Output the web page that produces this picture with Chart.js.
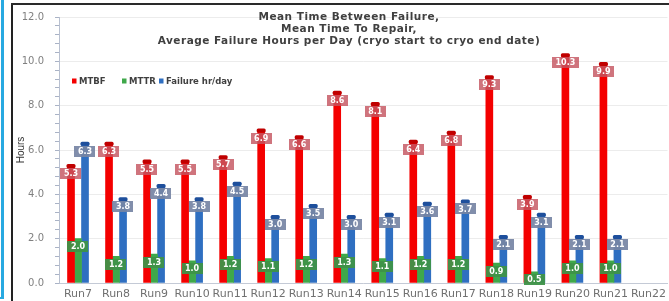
<!DOCTYPE html>
<html>
<head>
<meta charset="utf-8">
<script src="https://cdn.jsdelivr.net/npm/chart.js@4/dist/chart.umd.min.js"></script>
<style>
  html, body { margin: 0; padding: 0; background: #ffffff; overflow: hidden; }
  #wrap { position: relative; width: 669px; height: 301px; overflow: hidden; }
  canvas { position: absolute; left: 0; top: 0; }
  .ln { position: absolute; }
</style>
</head>
<body>
<div id="wrap">
  <canvas id="c" width="671" height="301"></canvas>
  <div class="ln" style="left:1px;top:0;width:3px;height:299px;background:#27a9e1;"></div>
  <div class="ln" style="left:0;top:297px;width:4px;height:2px;background:#27a9e1;"></div>
  <div class="ln" style="left:11px;top:3px;width:2px;height:298px;background:#222;"></div>
  <div class="ln" style="left:11px;top:3px;width:660px;height:2px;background:#2a2a2a;"></div>
</div>
<script>
const categories = ['Run7','Run8','Run9','Run10','Run11','Run12','Run13','Run14','Run15','Run16','Run17','Run18','Run19','Run20','Run21','Run22'];
const mtbf    = [5.3, 6.3, 5.5, 5.5, 5.7, 6.9, 6.6, 8.6, 8.1, 6.4, 6.8, 9.3, 3.9, 10.3, 9.9, null];
const mttr    = [2.0, 1.2, 1.3, 1.0, 1.2, 1.1, 1.2, 1.3, 1.1, 1.2, 1.2, 0.9, 0.5, 1.0, 1.0, null];
const failure = [6.3, 3.8, 4.4, 3.8, 4.5, 3.0, 3.5, 3.0, 3.1, 3.6, 3.7, 2.1, 3.1, 2.1, 2.1, null];
const seriesNames = ['MTBF', 'MTTR', 'Failure hr/day'];
const titleLines = ['Mean Time Between Failure,', 'Mean Time To Repair,', 'Average Failure Hours per Day (cryo start to cryo end date)'];
const yMin = 0, yMax = 12, yMinorStep = 0.4, yMajorStep = 2;

const colors = ['#f40000', '#3fa84a', '#2f6fc1'];
const capColors = ['#c00000', null, '#1e4f9c'];
const labelBg = ['rgba(196,86,96,0.82)', 'rgba(62,146,72,0.95)', 'rgba(118,132,164,0.92)'];
const legendX = [72, 122, 159];

function isMajor(v) { return Math.abs(v / yMajorStep - Math.round(v / yMajorStep)) < 1e-6; }

const overlay = {
  id: 'overlay',
  afterDatasetsDraw(chart) {
    const ctx = chart.ctx;
    chart.data.datasets.forEach((ds, di) => {
      const meta = chart.getDatasetMeta(di);
      if (!capColors[di]) return;
      meta.data.forEach((el, i) => {
        if (ds.data[i] == null) return;
        ctx.save();
        ctx.fillStyle = capColors[di];
        ctx.beginPath();
        if (ctx.roundRect) ctx.roundRect(el.x - 4.5, el.y - 1.5, 9, 4, 1.5); else ctx.rect(el.x - 4.5, el.y - 1.5, 9, 4);
        ctx.fill();
        ctx.restore();
      });
    });
    ctx.save();
    ctx.font = 'bold 8px "DejaVu Sans"';
    ctx.textAlign = 'center';
    ctx.textBaseline = 'middle';
    chart.data.datasets.forEach((ds, di) => {
      const meta = chart.getDatasetMeta(di);
      meta.data.forEach((el, i) => {
        const v = ds.data[i];
        if (v == null) return;
        const t = v.toFixed(1);
        const w = ctx.measureText(t).width + 7;
        const h = 11;
        const cx = el.x, cy = el.y + 8;
        ctx.fillStyle = labelBg[di];
        ctx.fillRect(Math.round(cx - w / 2), Math.round(cy - h / 2), Math.round(w), h);
        ctx.fillStyle = '#ffffff';
        ctx.fillText(t, cx, cy + 0.5);
      });
    });
    ctx.restore();
  },
  afterDraw(chart) {
    const ctx = chart.ctx;
    ctx.save();
    ctx.fillStyle = '#404040';
    ctx.font = 'bold 10.5px "DejaVu Sans"';
    ctx.letterSpacing = '0.5px';
    ctx.textAlign = 'center';
    ctx.textBaseline = 'middle';
    const tx = 349;
    titleLines.forEach((l, k) => ctx.fillText(l, tx, 17.5 + k * 12));
    ctx.font = 'bold 8.5px "DejaVu Sans"';
    ctx.letterSpacing = '0px';
    ctx.textAlign = 'left';
    const ly = 81;
    seriesNames.forEach((n, k) => {
      const x = legendX[k];
      ctx.fillStyle = colors[k];
      ctx.fillRect(x, ly - 2.5, 4.5, 5);
      ctx.fillStyle = '#404040';
      ctx.fillText(n, x + 7, ly + 0.5);
    });
    ctx.restore();
  }
};

new Chart(document.getElementById('c'), {
  type: 'bar',
  data: {
    labels: categories,
    datasets: [
      { label: seriesNames[0], data: mtbf, backgroundColor: colors[0], barThickness: 7 },
      { label: seriesNames[1], data: mttr, backgroundColor: colors[1], barThickness: 7 },
      { label: seriesNames[2], data: failure, backgroundColor: colors[2], barThickness: 7 }
    ]
  },
  options: {
    responsive: false,
    animation: false,
    layout: { padding: { top: 16, left: 0, right: 0, bottom: 0 } },
    plugins: { legend: { display: false }, title: { display: false }, tooltip: { enabled: false } },
    scales: {
      x: {
        afterFit(s) { s.height = 18; },
        grid: { display: false, drawTicks: false },
        border: { display: true, color: '#c4cad6', width: 1 },
        ticks: {
          autoSkip: false, maxRotation: 0, minRotation: 0, padding: 5,
          color: '#707070', font: { family: 'DejaVu Sans', size: 11 }
        }
      },
      y: {
        min: yMin, max: yMax,
        afterFit(s) { s.width = 59; },
        border: { display: true, color: '#b8c0d0', width: 1 },
        grid: {
          color: (c) => (c.tick && isMajor(c.tick.value)) ? '#ececec' : 'rgba(0,0,0,0)',
          tickColor: '#aab3c6',
          tickLength: 4,
          drawTicks: true
        },
        ticks: {
          stepSize: yMinorStep, autoSkip: false, padding: 11,
          color: '#808080', font: { family: 'DejaVu Sans', size: 10 },
          callback: (v) => isMajor(v) ? Number(v).toFixed(1) : ''
        },
        title: {
          display: true, text: 'Hours', color: '#333333',
          font: { family: 'Liberation Sans Narrow, Liberation Sans', size: 10 },
          padding: { top: 15, bottom: 0 }
        }
      }
    }
  },
  plugins: [overlay]
});
</script>
</body>
</html>
